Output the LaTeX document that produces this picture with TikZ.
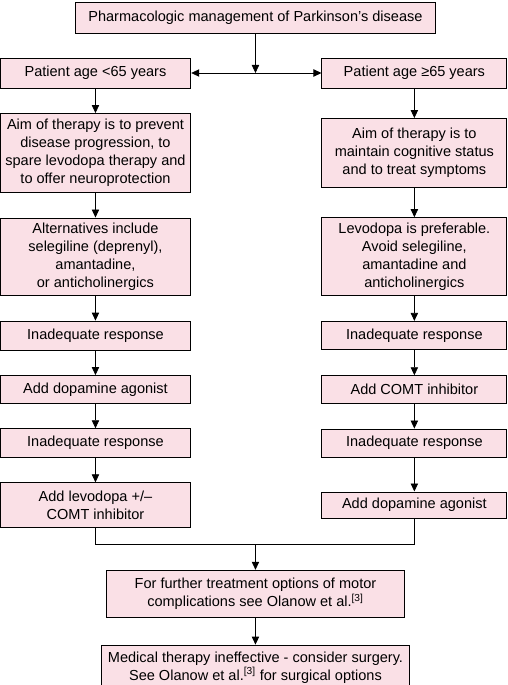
\documentclass[tikz,border=0pt]{standalone}
\usepackage{fontspec}
\setmainfont{Liberation Sans}
\usetikzlibrary{positioning,arrows.meta}
\definecolor{boxpink}{RGB}{250,224,230}

\tikzstyle{arrow} = [line width=0.6pt,-{Triangle[length=6pt,width=5.5pt]}]
\tikzstyle{line} = [line width=0.6pt]
\tikzstyle{box} = [
        rectangle,
        draw=black,
        line width=0.6pt,
        fill=boxpink,
        align=center,
        inner sep=1pt,
        font=\fontsize{10.9}{13.5}\selectfont,
    ]
\tikzstyle{leftbox} = [box, minimum width=143pt]
\tikzstyle{rightbox} = [box, minimum width=138.75pt]

\begin{document}
\begin{tikzpicture}[node distance=18.5pt]
            \useasboundingbox (0,0) rectangle (380.25pt,-513.75pt);
            \node [box, minimum width=270pt, minimum height=23.25pt] (title) at (191.6pt,-13.1pt) {Pharmacologic management of Parkinson’s disease};
            % age split
            \node [leftbox, minimum height=22.5pt] (young) at (71.6pt,-54.75pt) {Patient age <65 years};
            \node [rightbox, minimum height=22.5pt, right=97.7pt of young] (old) {Patient age ≥65 years};
            % left column
            \node [leftbox, minimum height=59.25pt, below=of young] (aimyoung) {Aim of therapy is to prevent\\disease progression, to\\spare levodopa therapy and\\to offer neuroprotection};
            \node [leftbox, minimum height=58.2pt, below=of aimyoung] (altyoung) {Alternatives include\\selegiline (deprenyl),\\amantadine,\\or anticholinergics};
            \node [leftbox, minimum height=21.75pt, below=of altyoung] (inadyounga) {Inadequate response};
            \node [leftbox, minimum height=20.8pt, below=of inadyounga] (agonistyoung) {Add dopamine agonist};
            \node [leftbox, minimum height=21.45pt, below=of agonistyoung] (inadyoungb) {Inadequate response};
            \node [leftbox, minimum height=33.75pt, below=of inadyoungb] (levodopayoung) {Add levodopa +/–\\COMT inhibitor};
            % right column
            \node [rightbox, minimum height=51.75pt, right=97.7pt of aimyoung] (aimold) {Aim of therapy is to\\maintain cognitive status\\and to treat symptoms};
            \node [rightbox, minimum height=58.7pt, right=97.7pt of altyoung] (levodopaold) {Levodopa is preferable.\\Avoid selegiline,\\amantadine and\\anticholinergics};
            \node [rightbox, minimum height=21.3pt, right=97.7pt of inadyounga] (inadolda) {Inadequate response};
            \node [rightbox, minimum height=20.5pt, right=97.7pt of agonistyoung] (comtold) {Add COMT inhibitor};
            \node [rightbox, minimum height=21pt, right=97.7pt of inadyoungb] (inadoldb) {Inadequate response};
            \node [rightbox, minimum height=20pt, right=97.7pt of levodopayoung] (agonistold) {Add dopamine agonist};
            % merge
            \coordinate [below=12.5pt of levodopayoung.south] (mergeleft);
            \coordinate (merge) at (title.south |- mergeleft);
            \node [box, minimum width=223.5pt, minimum height=35.25pt, below=18.75pt of merge] (further) {For further treatment options of motor\\complications see Olanow et al.\textsuperscript{[3]}};
            \node [box, minimum width=231.5pt, minimum height=33.75pt, below=20.25pt of further] (surgery) {Medical therapy ineffective - consider surgery.\\See Olanow et al.\textsuperscript{[3]} for surgical options};
            \coordinate (split) at (title.south |- young);
            \draw [arrow] (title.south) -- (split);
            \draw [arrow] (split) -- (young);
            \draw [arrow] (split) -- (old);
            \draw [arrow] (young) -- (aimyoung);
            \draw [arrow] (aimyoung) -- (altyoung);
            \draw [arrow] (altyoung) -- (inadyounga);
            \draw [arrow] (inadyounga) -- (agonistyoung);
            \draw [arrow] (agonistyoung) -- (inadyoungb);
            \draw [arrow] (inadyoungb) -- (levodopayoung);
            \draw [arrow] (old) -- (aimold);
            \draw [arrow] (aimold) -- (levodopaold);
            \draw [arrow] (levodopaold) -- (inadolda);
            \draw [arrow] (inadolda) -- (comtold);
            \draw [arrow] (comtold) -- (inadoldb);
            \draw [arrow] (inadoldb) -- (agonistold);
            \draw [line] (levodopayoung.south) -- (mergeleft) -| (agonistold.south);
            \draw [arrow] (merge) -- (further);
            \draw [arrow] (further) -- (surgery);
        \end{tikzpicture}
\end{document}
